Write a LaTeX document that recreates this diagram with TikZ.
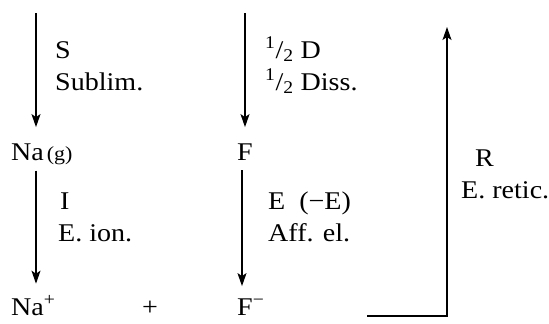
\documentclass[tikz,border=0pt]{standalone}
\usepackage{fontspec}
\setmainfont[FakeStretch=1.1]{Liberation Serif}
\usetikzlibrary{arrows.meta, positioning}
\tikzset{%
   % text, placed by the baseline of its last line
   lbl/.style={
      inner sep=0pt,
      anchor=base west,
      align=left,
      font=\fontsize{25.5}{32}\selectfont
   },
   arr/.style={
      line width=1.2pt,
      -{Stealth[length=13pt, width=9pt, inset=3pt]}
   },
}
\newcommand{\half}{\textsuperscript{1}/\textsubscript{2}}

\begin{document}
\begin{tikzpicture}[x=1pt, y=1pt]
   \useasboundingbox (0,0) rectangle (549,-324);
   % species
   \node[lbl] (nag) at (11,-160) {Na\hspace{3pt}{\fontsize{20}{20}\selectfont(g)}};
   \node[lbl] (f) at (237,-160) {F};
   \node[lbl] (nap) at (11,-315) {Na\textsuperscript{+}};
   \node[lbl] (plus) at (142,-315) {+};
   \node[lbl] (fm) at (237,-315) {F\textsuperscript{−}};
   % step labels
   \node[lbl] (sub) at (55,-90) {S\\Sublim.};
   \node[lbl] (dis) at (265,-90) {\half{} D\\\half{} Diss.};
   \node[lbl] (ion) at (58,-241) {\hspace{2pt}I\\E. ion.};
   \node[lbl] (aff) at (268,-241) {E~~(−E)\\Aff. el.};
   \node[lbl] (ret) at (461,-198) {\hspace{14pt}R\\E. retic.};
   % arrows
   \coordinate (s0) at (36,-13);
   \coordinate (d0) at (245,-13);
   \coordinate (d1) at (242,0);
   \draw[arr, shorten >=16pt] (s0) -- (s0 |- nag.north);
   \draw[arr, shorten <=6pt, shorten >=12pt] (nag.south -| s0) -- (nap.north -| s0);
   \draw[arr, shorten >=16pt] (d0) -- (d0 |- f.north);
   \draw[arr, shorten <=10pt, shorten >=12pt] (f.south -| d1) -- (fm.north -| d1);
   \coordinate (h0) at (367,-316);
   \coordinate (v1) at (447,-27);
   \draw[arr] (h0) -- (h0 -| v1) -- (v1);
\end{tikzpicture}
\end{document}
